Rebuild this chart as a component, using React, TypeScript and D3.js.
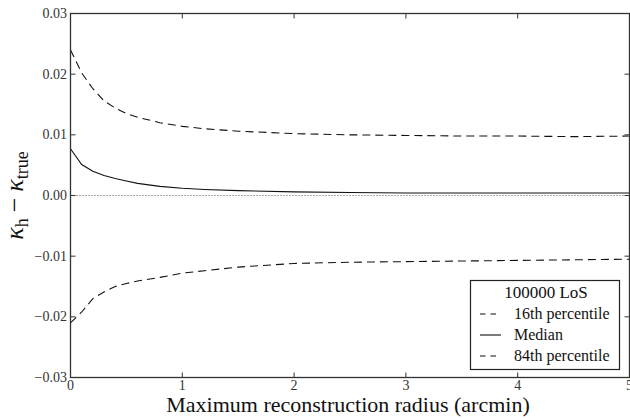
import React from 'react';
import * as d3 from 'd3';

// radius in arcmin
const radius = [0, 0.1, 0.2, 0.3, 0.4, 0.5, 0.6, 0.8, 1.0, 1.2, 1.5, 2.0, 2.5, 3.0, 3.5, 4.0, 4.5, 5.0];
// upper dashed curve
const upper = [0.024, 0.0202, 0.0176, 0.0156, 0.0144, 0.0135, 0.0129, 0.012, 0.0114, 0.011, 0.0106, 0.0102, 0.01, 0.0099, 0.0098, 0.0098, 0.0097, 0.0098];
// median
const median = [0.0077, 0.0051, 0.004, 0.0033, 0.0028, 0.0024, 0.002, 0.0015, 0.0012, 0.001, 0.0008, 0.0006, 0.0005, 0.0004, 0.0004, 0.0004, 0.0004, 0.0004];
// lower dashed curve
const lower = [-0.021, -0.0192, -0.017, -0.0159, -0.015, -0.0145, -0.0141, -0.0135, -0.0128, -0.0124, -0.0118, -0.0112, -0.011, -0.0109, -0.0108, -0.0107, -0.0106, -0.0105];

const xTicks = [0, 1, 2, 3, 4, 5];
const yTicks = [-0.03, -0.02, -0.01, 0, 0.01, 0.02, 0.03];
const legendTitle = '100000 LoS';
const legendLabels = ['16th percentile', 'Median', '84th percentile'];

const serifFont = "'Liberation Serif'";
const axisColor = '#333';

const x = d3.scaleLinear().domain([0, 5]).range([70.5, 629.5]);
const y = d3.scaleLinear().domain([-0.03, 0.03]).range([377.5, 13.5]);

const line = d3.line<number>()
  .x((d, i) => x(radius[i]))
  .y(d => y(d));

const series = [
  { values: upper, dash: '8,5' },
  { values: median, dash: undefined },
  { values: lower, dash: '8,5' },
];

function App() {
  const tl = 5;
  const fmt = d3.format('.2f');
  const ts = (size: number) => ({ fontFamily: serifFont, fontSize: size + 'px' });
  return (
    <>
      <style>{'body { margin: 0; }'}</style>
      <svg width={630} height={418} fontFamily="Liberation Serif" style={{ display: 'block' }}>
        <rect width={630} height={418} fill="white" />
        {/* zero line */}
        <line x1={x(0)} x2={x(5)} y1={y(0)} y2={y(0)} stroke="#555" strokeWidth={1} strokeDasharray="1,2" />

        {series.map((s, i) => (
          <path key={i} d={line(s.values) || ''} fill="none" stroke="#111" strokeWidth={1.1} strokeDasharray={s.dash} />
        ))}

        {/* frame */}
        <rect x={x(0)} y={y(0.03)} width={x(5) - x(0)} height={y(-0.03) - y(0.03)}
          fill="none" stroke={axisColor} strokeWidth={1.3} />

        {xTicks.map(t => (
          <g key={'x' + t}>
            <line x1={x(t)} x2={x(t)} y1={y(-0.03)} y2={y(-0.03) - tl} stroke={axisColor} />
            <line x1={x(t)} x2={x(t)} y1={y(0.03)} y2={y(0.03) + tl} stroke={axisColor} />
            <text x={x(t)} y={390} textAnchor="middle" style={ts(14)} fill="#333">{String(t)}</text>
          </g>
        ))}

        {yTicks.map(t => (
          <g key={'y' + t}>
            <line x1={x(0)} x2={x(0) + tl} y1={y(t)} y2={y(t)} stroke={axisColor} />
            <line x1={x(5)} x2={x(5) - tl} y1={y(t)} y2={y(t)} stroke={axisColor} />
            <text x={67} y={y(t) + 4.5} textAnchor="end" style={ts(14)} fill="#333">
              {fmt(t).replace('-', '\u2212')}
            </text>
          </g>
        ))}

        {/* x label */}
        <text x={348} y={412} textAnchor="middle" style={ts(22)} fill="#111">
          Maximum reconstruction radius (arcmin)
        </text>

        {/* y label */}
        <text transform={`translate(23,${y(0)}) rotate(-90)`} textAnchor="middle" style={ts(26)} fill="#111">
          <tspan fontStyle="italic">{'\u03ba'}</tspan>
          <tspan fontSize={18} dy={5}>h</tspan>
          <tspan dy={-5} dx={6}>{'\u2212'}</tspan>
          <tspan fontStyle="italic" dx={6}>{'\u03ba'}</tspan>
          <tspan fontSize={18} dy={5}>true</tspan>
        </text>

        {/* legend */}
        <g>
          <rect x={470.5} y={280.5} width={149} height={89} fill="white" stroke="#222" strokeWidth={1.2} />
          <text x={546} y={298} textAnchor="middle" style={ts(17)} fill="#111">{legendTitle}</text>
          {legendLabels.map((label, i) => {
            const ly = 314 + i * 21;
            return (
              <g key={label}>
                <line x1={480} x2={501} y1={ly} y2={ly} stroke="#111" strokeWidth={1.1}
                  strokeDasharray={i === 1 ? undefined : '5.5,5'} />
                <text x={514} y={ly + 5} style={ts(16)} fill="#111">{label}</text>
              </g>
            );
          })}
        </g>
      </svg>
    </>
  );
}

export default App;
